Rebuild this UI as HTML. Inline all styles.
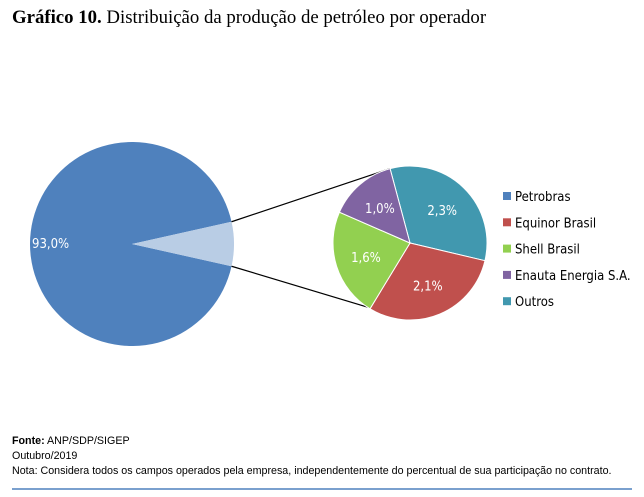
<!DOCTYPE html>
<html><head><meta charset="utf-8"><style>
body{margin:0;width:644px;height:492px;background:#fff;overflow:hidden;font-family:"Liberation Sans",sans-serif}
</style></head><body>
<svg width="644" height="492" xmlns="http://www.w3.org/2000/svg">
<text x="12" y="23" font-family="Liberation Serif,serif" font-size="18.8" fill="#000"><tspan font-weight="bold">Gráfico 10.</tspan> Distribuição da produção de petróleo por operador</text>
<g id="main"></g>
<g id="sub"></g>
<g id="legend"></g>
<text x="12" y="444" font-size="10.7"><tspan font-weight="bold">Fonte:</tspan> ANP/SDP/SIGEP</text>
<text x="12" y="459" font-size="10.7">Outubro/2019</text>
<text x="12" y="474" font-size="10.7">Nota: Considera todos os campos operados pela empresa, independentemente do percentual de sua participação no contrato.</text>
<line x1="12" y1="489" x2="632" y2="489" stroke="#4F81BD" stroke-width="1.5"/>
</svg>
<script>
const mainLabel="93,0%";
const mainValue=93.0;
const categories=["Outros","Equinor Brasil","Shell Brasil","Enauta Energia S.A."];
const values=[2.3,2.1,1.6,1.0];
const labels=["2,3%","2,1%","1,6%","1,0%"];
const legendNames=["Petrobras","Equinor Brasil","Shell Brasil","Enauta Energia S.A.","Outros"];
const colors={"Petrobras":"#4F81BD","Equinor Brasil":"#C0504D","Shell Brasil":"#92D050","Enauta Energia S.A.":"#8064A2","Outros":"#4198AF"};
const NS="http://www.w3.org/2000/svg";
function mk(t,a,p){const e=document.createElementNS(NS,t);for(const k in a)e.setAttribute(k,a[k]);p.appendChild(e);return e;}
function pt(cx,cy,r,deg){const a=(deg-90)*Math.PI/180;return [cx+r*Math.cos(a),cy+r*Math.sin(a)];}
function arc(cx,cy,r,a0,a1){const p0=pt(cx,cy,r,a0),p1=pt(cx,cy,r,a1);return `M${cx},${cy}L${p0[0]},${p0[1]}A${r},${r} 0 ${a1-a0>180?1:0} 1 ${p1[0]},${p1[1]}Z`;}
const M=document.getElementById('main');const cx=132,cy=244,R=102;
const rest=100-mainValue;const half=rest/100*180;
let e=mk('path',{d:arc(cx,cy,R,90+half,450-half),fill:colors.Petrobras},M);

e=mk('path',{d:arc(cx,cy,R,90-half,90+half),fill:"#B9CDE5"},M);

e=mk('text',{x:32,y:248,'font-size':13,fill:'#fff','font-family':'DejaVu Sans Condensed,Liberation Sans,sans-serif'},M);e.textContent=mainLabel;

const S=document.getElementById('sub');const sx=410,sy=243,sr=77;
const tot=values.reduce((a,b)=>a+b,0);let a=-15;
const p1=pt(cx,cy,R,90-half),p2=pt(cx,cy,R,90+half);
const q1=pt(sx,sy,sr,-15),q2=pt(sx,sy,sr,195);
e=mk('line',{x1:p1[0],y1:p1[1],x2:q1[0],y2:q1[1],stroke:'#000','stroke-width':1.2},S);

e=mk('line',{x1:p2[0],y1:p2[1],x2:q2[0]+5,y2:q2[1]-2,stroke:'#000','stroke-width':1.2},S);

values.forEach((v,i)=>{const s=v/tot*360;
 let p=mk('path',{d:arc(sx,sy,sr,a,a+s),fill:colors[categories[i]],stroke:'#fff','stroke-width':1},S);
 
 
 const m=pt(sx,sy,sr*0.6,a+s/2);
 let t=mk('text',{x:m[0],y:m[1]+5,'font-size':13,fill:'#fff','text-anchor':'middle','font-family':'DejaVu Sans Condensed,Liberation Sans,sans-serif'},S);t.textContent=labels[i];
 
 
 a+=s;});
const L=document.getElementById('legend');
legendNames.forEach((n,i)=>{const y=196+i*26.3;
 let r=mk('rect',{x:503,y:y-4,width:8,height:8,fill:colors[n]},L);
 
 let t=mk('text',{x:515,y:y+5,'font-size':13,fill:'#000','font-family':'DejaVu Sans Condensed,Liberation Sans,sans-serif'},L);t.textContent=n;
 });
</script>
</body></html>
